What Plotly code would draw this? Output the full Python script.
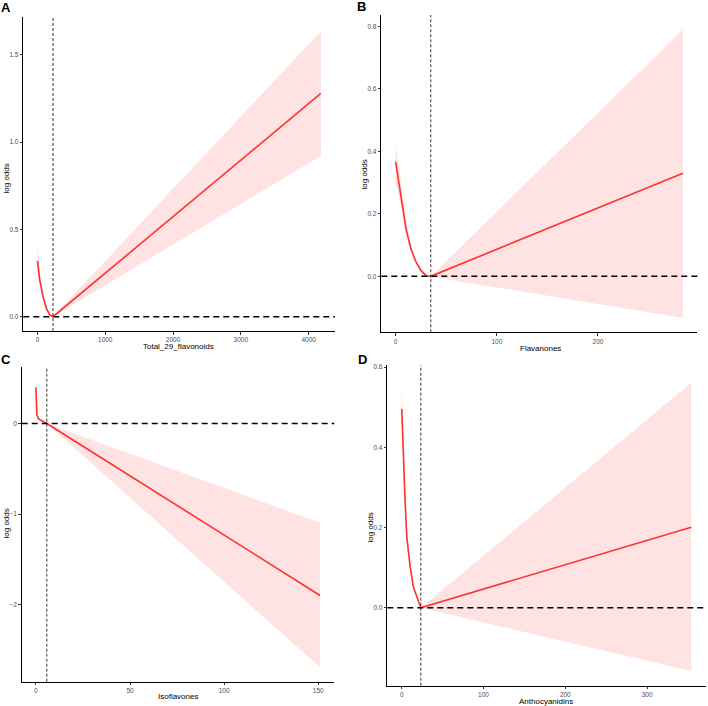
import plotly.graph_objects as go

# restricted cubic spline fits
a_x = [0, 34, 82, 132, 181, 229, 4180]
a_y = [0.32, 0.21, 0.115, 0.048, 0.01, 0.0, 1.278]
a_lo = [0.25, 0.17, 0.09, 0.035, 0.006, 0.0, 0.92]
a_hi = [0.40, 0.26, 0.14, 0.06, 0.014, 0.0, 1.634]

b_x = [0, 5.3, 10.3, 15.2, 20.2, 25.1, 30.1, 34.7, 284]
b_y = [0.366, 0.258, 0.151, 0.087, 0.045, 0.018, 0.002, 0.0, 0.33]
b_lo = [0.30, 0.22, 0.125, 0.075, 0.04, 0.016, 0.001, 0.0, -0.133]
b_hi = [0.43, 0.30, 0.18, 0.10, 0.05, 0.02, 0.003, 0.0, 0.79]

c_x = [0, 0.5, 1.4, 5.8, 151]
c_y = [0.40, 0.10, 0.05, 0.0, -1.90]
c_lo = [0.33, 0.07, 0.04, 0.0, -2.695]
c_hi = [0.47, 0.13, 0.06, 0.0, -1.096]

d_x = [0, 2.0, 4.0, 6.1, 10.2, 14.2, 18.4, 23.3, 354]
d_y = [0.496, 0.369, 0.269, 0.178, 0.103, 0.052, 0.028, 0.0, 0.201]
d_lo = [0.43, 0.32, 0.24, 0.16, 0.092, 0.046, 0.025, 0.0, -0.158]
d_hi = [0.569, 0.42, 0.30, 0.20, 0.115, 0.058, 0.031, 0.0, 0.561]

knots = [229, 34.7, 5.8, 23.3]
x_labels = ["Total_29_flavonoids", "Flavanones", "Isoflavones", "Anthocyanidins"]
y_label = "log odds"
panel_letters = ["A", "B", "C", "D"]

x_ticks = [[0, 1000, 2000, 3000, 4000], [0, 100, 200], [0, 50, 100, 150], [0, 100, 200, 300]]
y_ticks = [[0.0, 0.5, 1.0, 1.5], [0.0, 0.2, 0.4, 0.6, 0.8], [-2, -1, 0], [0.0, 0.2, 0.4, 0.6]]
y_fmt = [".1f", ".1f", "d", ".1f"]

W, H = 708, 706
# pixel boxes of each panel: left, right, top, bottom
boxes = [(23.3, 335, 17, 331), (381.3, 697.3, 15, 332.3),
         (21.7, 334.3, 366.7, 681.7), (387.3, 705.7, 365, 685.7)]
letter_pos = [(6, 7), (361, 6), (6, 359), (362, 359)]
xtitle_pos = [(179, 346.5), (540, 348.5), (178, 696.5), (546, 701.5)]
ytitle_pos = [(6.5, 179), (363.5, 175), (5.5, 524), (369.5, 528)]

panels = [(a_x, a_y, a_lo, a_hi), (b_x, b_y, b_lo, b_hi),
          (c_x, c_y, c_lo, c_hi), (d_x, d_y, d_lo, d_hi)]

FONT = "Liberation Sans, Arial"


def expand(lo, hi, f=0.05):
    # ggplot style 5% padding
    pad = (hi - lo) * f
    return [lo - pad, hi + pad]


def text_at(fig, text, px, py, size, angle=0):
    fig.add_annotation(text=text, x=px / W, y=1 - py / H, xref="paper", yref="paper",
                       xanchor="center", yanchor="middle", showarrow=False, textangle=angle,
                       font=dict(family=FONT, size=size, color="black"))


fig = go.Figure()
for n, (xs, ys, lo, hi) in enumerate(panels):
    ax = "" if n == 0 else str(n + 1)
    xref, yref = "x" + ax, "y" + ax
    # ribbon
    fig.add_trace(go.Scatter(x=xs + xs[::-1], y=hi + lo[::-1], fill="toself",
                             fillcolor="rgba(255,0,0,0.11)", line=dict(width=0),
                             mode="lines", hoverinfo="skip", showlegend=False,
                             xaxis=xref, yaxis=yref))
    fig.add_trace(go.Scatter(x=xs, y=ys, mode="lines", line=dict(color="#FF3030", width=1.6),
                             showlegend=False, xaxis=xref, yaxis=yref))

    l, r, t, b = boxes[n]
    common = dict(showline=True, linecolor="black", linewidth=1, ticks="outside",
                  ticklen=2.5, tickcolor="#333333", showgrid=False, zeroline=False,
                  tickfont=dict(family=FONT, size=6.5, color="#4D4D4D"),
                  automargin=False)
    fig.layout["xaxis" + ax] = dict(domain=[l / W, r / W], anchor=yref,
                                    range=expand(min(xs), max(xs)), tickvals=x_ticks[n],
                                    **common)
    fig.layout["yaxis" + ax] = dict(domain=[1 - b / H, 1 - t / H], anchor=xref,
                                    range=expand(min(lo + [0]), max(hi)), tickvals=y_ticks[n],
                                    tickformat=y_fmt[n], **common)

    # reference lines
    fig.add_shape(type="line", xref=xref + " domain", yref=yref, x0=0, x1=1, y0=0, y1=0,
                  line=dict(color="black", width=1.4, dash="6px,4px"))
    fig.add_shape(type="line", xref=xref, yref=yref + " domain", x0=knots[n], x1=knots[n], y0=0, y1=1,
                  line=dict(color="#333333", width=1, dash="3px,2px"))

    # titles and panel letter
    text_at(fig, x_labels[n], *xtitle_pos[n], 8)
    text_at(fig, y_label, *ytitle_pos[n], 8, angle=-90)
    text_at(fig, "<b>" + panel_letters[n] + "</b>", *letter_pos[n], 13)

fig.update_layout(width=W, height=H, margin=dict(l=0, r=0, t=0, b=0),
                  plot_bgcolor="white", paper_bgcolor="white")
# page body has an 8px margin by default, drop it so the figure fills the window
fig.write_html("out.html", config={"displayModeBar": False},
               post_script="document.body.style.margin='0px';")
